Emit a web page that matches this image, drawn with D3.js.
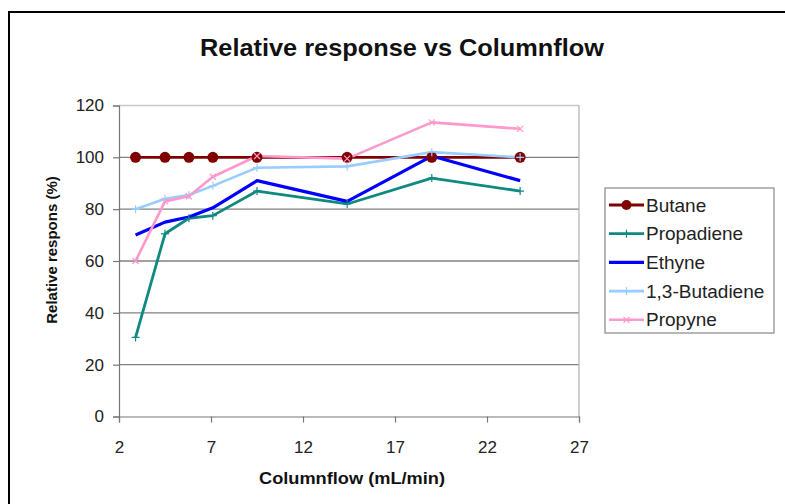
<!DOCTYPE html>
<html>
<head>
<meta charset="utf-8">
<script src="https://cdn.jsdelivr.net/npm/d3@7"></script>
<style>
  html, body { margin: 0; padding: 0; background: #fff; }
  svg { display: block; font-family: "Liberation Sans", Arial, sans-serif; }
</style>
</head>
<body>
<svg id="chart" width="785" height="504"></svg>
<script>
// Column flow settings (mL/min)
const flows = [2.9, 4.5, 5.8, 7.1, 9.5, 14.4, 19.0, 23.8];

// Relative response (%) per compound
const butane      = [100, 100, 100, 100, 100, 100, 100, 100];
const propadiene  = [30.5, 70.5, 76.5, 77.5, 87, 82, 92, 87];
const ethyne      = [70, 75, 77, 80.5, 91, 83, 100.5, 91];
const butadiene13 = [80, 84, 85.5, 89, 96, 96.5, 102, 100];
const propyne     = [60, 83, 85, 92.5, 100.5, 99.5, 113.5, 111];

const seriesNames  = ["Butane", "Propadiene", "Ethyne", "1,3-Butadiene", "Propyne"];
const seriesValues = [butane, propadiene, ethyne, butadiene13, propyne];

const xTicks = [2, 7, 12, 17, 22, 27];
const yTicks = [0, 20, 40, 60, 80, 100, 120];

const styles = [
  { color: "#800000", width: 2.8, marker: "circle" },
  { color: "#108a80", width: 2.8, marker: "plus" },
  { color: "#0000ff", width: 3.2, marker: "none" },
  { color: "#99ccff", width: 2.6, marker: "plus" },
  { color: "#ff99cc", width: 2.6, marker: "cross" }
];

const svg = d3.select("#chart");

// outer chart frame
svg.append("path")
  .attr("d", "M9,510 L9,12 L790,12")
  .attr("fill", "none").attr("stroke", "#000").attr("stroke-width", 2);

const x = d3.scaleLinear().domain([2, 27]).range([119, 579]);
const y = d3.scaleLinear().domain([0, 120]).range([416.5, 105.5]);

// horizontal gridlines
svg.append("g").selectAll("line").data(yTicks.filter(t => t > 0)).join("line")
  .attr("x1", x(2)).attr("x2", x(27))
  .attr("y1", d => y(d)).attr("y2", d => y(d))
  .attr("stroke", d => d === 120 ? "#c8c8c8" : "#808080").attr("stroke-width", 1.3);

// right border of plot area
svg.append("line")
  .attr("x1", x(27)).attr("x2", x(27)).attr("y1", y(120)).attr("y2", y(0))
  .attr("stroke", "#b0b0b0").attr("stroke-width", 1.2);

// axes
const yAxis = d3.axisLeft(y).tickValues(yTicks).tickSize(6).tickPadding(9);
const xAxis = d3.axisBottom(x).tickValues(xTicks).tickSize(6).tickPadding(18);

const gy = svg.append("g").attr("transform", `translate(${x(2)},0)`).call(yAxis);
const gx = svg.append("g").attr("transform", `translate(0,${y(0)})`).call(xAxis);
[gy, gx].forEach(g => {
  g.select(".domain").attr("stroke", "#777").attr("stroke-width", 1.2);
  g.selectAll(".tick line").attr("stroke", "#777").attr("stroke-width", 1.2);
  g.selectAll(".tick text").attr("fill", "#222").style("font-size", "17px")
    .style("font-family", "'Liberation Sans', Arial, sans-serif");
});

// lines and markers
const line = d3.line().x((d, i) => x(flows[i])).y(d => y(d));

seriesValues.forEach((vals, s) => {
  const st = styles[s];
  svg.append("path").datum(vals)
    .attr("d", line)
    .attr("fill", "none")
    .attr("stroke", st.color)
    .attr("stroke-width", st.width)
    .attr("stroke-linejoin", "round");
});

seriesValues.forEach((vals, s) => {
  const st = styles[s];
  const g = svg.append("g");
  vals.forEach((v, i) => {
    const cx = x(flows[i]), cy = y(v);
    if (st.marker === "circle") {
      g.append("circle").attr("cx", cx).attr("cy", cy).attr("r", 5.5).attr("fill", st.color);
    } else if (st.marker === "plus") {
      g.append("path").attr("d", `M${cx - 4},${cy}H${cx + 4}M${cx},${cy - 4}V${cy + 4}`)
        .attr("stroke", st.color).attr("stroke-width", 1.2);
    } else if (st.marker === "cross") {
      g.append("path").attr("d", `M${cx - 3},${cy - 3}L${cx + 3},${cy + 3}M${cx - 3},${cy + 3}L${cx + 3},${cy - 3}`)
        .attr("stroke", st.color).attr("stroke-width", 1.2);
    }
  });
});

// title and axis titles
svg.append("text")
  .attr("x", 402).attr("y", 56).attr("text-anchor", "middle")
  .attr("textLength", 404).attr("lengthAdjust", "spacingAndGlyphs")
  .style("font-size", "24px").style("font-weight", "bold").attr("fill", "#111")
  .text("Relative response vs Columnflow");

svg.append("text")
  .attr("x", 352).attr("y", 484).attr("text-anchor", "middle")
  .attr("textLength", 186).attr("lengthAdjust", "spacingAndGlyphs")
  .style("font-size", "17px").style("font-weight", "bold").attr("fill", "#111")
  .text("Columnflow (mL/min)");

svg.append("text")
  .attr("transform", "translate(57,250) rotate(-90)").attr("text-anchor", "middle")
  .style("font-size", "15px").style("font-weight", "bold").attr("fill", "#111")
  .text("Relative respons (%)");

// legend
const lg = svg.append("g");
lg.append("rect").attr("x", 605).attr("y", 188).attr("width", 169).attr("height", 145)
  .attr("fill", "#fff").attr("stroke", "#888").attr("stroke-width", 1.2);

seriesNames.forEach((name, s) => {
  const st = styles[s];
  const ly = 205 + s * 28.7;
  lg.append("line").attr("x1", 609).attr("x2", 644).attr("y1", ly).attr("y2", ly)
    .attr("stroke", st.color).attr("stroke-width", st.width);
  const mx = 626.5;
  if (st.marker === "circle") {
    lg.append("circle").attr("cx", mx).attr("cy", ly).attr("r", 5).attr("fill", st.color);
  } else if (st.marker === "plus") {
    lg.append("path").attr("d", `M${mx},${ly - 4}V${ly + 4}`).attr("stroke", st.color).attr("stroke-width", 1.2);
  } else if (st.marker === "cross") {
    lg.append("path").attr("d", `M${mx - 3},${ly - 3}L${mx + 3},${ly + 3}M${mx - 3},${ly + 3}L${mx + 3},${ly - 3}`)
      .attr("stroke", st.color).attr("stroke-width", 1.2);
  }
  lg.append("text").attr("x", 646).attr("y", ly + 6.5)
    .style("font-size", "19px").attr("fill", "#222").text(name);
});
</script>
</body>
</html>
